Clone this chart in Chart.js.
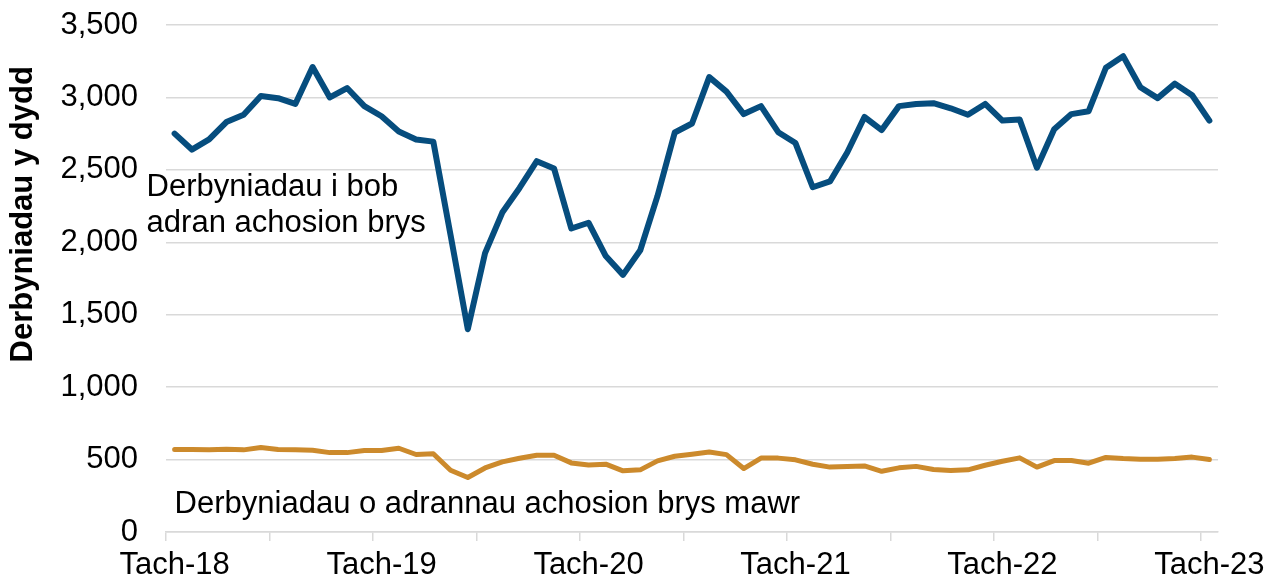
<!DOCTYPE html>
<html>
<head>
<meta charset="utf-8">
<script src="https://cdn.jsdelivr.net/npm/chart.js@4/dist/chart.umd.min.js"></script>
<style>
  html, body { margin: 0; padding: 0; background: #fff; }
  #wrap { width: 1280px; height: 583px; }
</style>
</head>
<body>
<div id="wrap"><canvas id="chart" width="1280" height="583"></canvas></div>
<script>
const months = [
  'Tach-18', 'Rhag-18', 'Ion-19', 'Chwe-19', 'Maw-19', 'Ebr-19', 'Mai-19', 'Meh-19', 'Gor-19', 'Aws-19', 'Med-19', 'Hyd-19',
  'Tach-19', 'Rhag-19', 'Ion-20', 'Chwe-20', 'Maw-20', 'Ebr-20', 'Mai-20', 'Meh-20', 'Gor-20', 'Aws-20', 'Med-20', 'Hyd-20',
  'Tach-20', 'Rhag-20', 'Ion-21', 'Chwe-21', 'Maw-21', 'Ebr-21', 'Mai-21', 'Meh-21', 'Gor-21', 'Aws-21', 'Med-21', 'Hyd-21',
  'Tach-21', 'Rhag-21', 'Ion-22', 'Chwe-22', 'Maw-22', 'Ebr-22', 'Mai-22', 'Meh-22', 'Gor-22', 'Aws-22', 'Med-22', 'Hyd-22',
  'Tach-22', 'Rhag-22', 'Ion-23', 'Chwe-23', 'Maw-23', 'Ebr-23', 'Mai-23', 'Meh-23', 'Gor-23', 'Aws-23', 'Med-23', 'Hyd-23',
  'Tach-23'
];

// Derbyniadau i bob adran achosion brys (per day)
const allDepartments = [
  2750, 2640, 2710, 2830, 2880, 3010, 2995, 2955, 3210, 3000, 3065, 2940,
  2870, 2765, 2710, 2695, 2050, 1400, 1925, 2205, 2375, 2560, 2510, 2095,
  2135, 1905, 1775, 1945, 2320, 2758, 2820, 3140, 3040, 2885, 2940, 2760,
  2685, 2380, 2420, 2620, 2865, 2775, 2940, 2955, 2960, 2925, 2880, 2955,
  2840, 2848, 2515, 2780, 2885, 2905, 3205, 3285, 3070, 2995, 3095, 3015,
  2840
];

// Derbyniadau o adrannau achosion brys mawr (per day)
const majorDepartments = [
  569, 569, 567, 571, 567, 583, 569, 567, 564, 548, 548, 562,
  562, 578, 535, 540, 426, 376, 442, 484, 509, 530, 530, 477,
  463, 468, 422, 429, 491, 523, 537, 552, 534, 438, 510, 510,
  498, 468, 448, 453, 456, 419, 443, 453, 431, 424, 429, 461,
  488, 512, 448, 493, 493, 475, 515, 507, 502, 502, 507, 517,
  500
];

const yMin = 0;
const yMax = 3500;
const yStep = 500;

const yTitle = 'Derbyniadau y dydd';
const allLabel = ['Derbyniadau i bob', 'adran achosion brys'];
const majorLabel = 'Derbyniadau o adrannau achosion brys mawr';

const FONT = "'Liberation Sans', Arial, sans-serif";
const GRID = '#d9d9d9';
const BLUE = '#064d7e';
const ORANGE = '#cc8a2c';

// text labels next to the lines + the rotated axis title
const textPlugin = {
  id: 'textLabels',
  afterDraw(chart) {
    const { ctx, scales: { x, y } } = chart;
    ctx.save();
    ctx.fillStyle = '#000';
    ctx.textAlign = 'left';
    ctx.textBaseline = 'alphabetic';
    ctx.font = `31px ${FONT}`;

    const x0 = x.getPixelForValue(0);
    ctx.fillText(allLabel[0], x0 - 28, y.getPixelForValue(2317));
    ctx.fillText(allLabel[1], x0 - 28, y.getPixelForValue(2317) + 36);
    ctx.fillText(majorLabel, x0, y.getPixelForValue(133));

    ctx.font = `bold 31px ${FONT}`;
    ctx.textAlign = 'center';
    ctx.textBaseline = 'middle';
    ctx.translate(23, y.getPixelForValue(2193));
    ctx.rotate(-Math.PI / 2);
    ctx.fillText(yTitle, 0, 0);
    ctx.restore();
  }
};

new Chart(document.getElementById('chart'), {
  type: 'line',
  data: {
    labels: months,
    datasets: [
      {
        label: allLabel.join(' '),
        data: allDepartments,
        borderColor: BLUE,
        borderWidth: 6,
        pointRadius: 0,
        tension: 0,
        borderJoinStyle: 'round',
        borderCapStyle: 'round'
      },
      {
        label: majorLabel,
        data: majorDepartments,
        borderColor: ORANGE,
        borderWidth: 5,
        pointRadius: 0,
        tension: 0,
        borderJoinStyle: 'round',
        borderCapStyle: 'round'
      }
    ]
  },
  options: {
    responsive: false,
    animation: false,
    devicePixelRatio: 1,
    layout: { padding: { top: 25, right: 62, bottom: 0, left: 0 } },
    plugins: {
      legend: { display: false },
      tooltip: { enabled: false }
    },
    scales: {
      x: {
        offset: true,
        grid: {
          offset: true,
          drawOnChartArea: false,
          drawTicks: true,
          tickLength: 9,
          lineWidth: 1.5,
          color: (c) => (c.index % 6 === 0 && c.index < months.length ? GRID : 'rgba(0,0,0,0)')
        },
        border: { display: true, color: GRID, width: 1.5 },
        ticks: {
          autoSkip: false,
          maxRotation: 0,
          minRotation: 0,
          padding: 6,
          color: '#000',
          font: { family: FONT, size: 31 },
          callback: (v, i) => (i % 12 === 0 ? months[i] : '')
        },
        afterFit: (s) => { s.height = 51; }
      },
      y: {
        min: yMin,
        max: yMax,
        ticks: {
          stepSize: yStep,
          padding: 2,
          color: '#000',
          font: { family: FONT, size: 31 },
          callback: (v) => v.toLocaleString('en-US')
        },
        // invisible tick marks give the gap between labels and plot
        grid: { color: GRID, lineWidth: 1.5, drawTicks: true, tickLength: 26, tickColor: 'rgba(0,0,0,0)' },
        border: { display: false },
        afterFit: (s) => { s.width = 166; }
      }
    }
  },
  plugins: [textPlugin]
});
</script>
</body>
</html>
